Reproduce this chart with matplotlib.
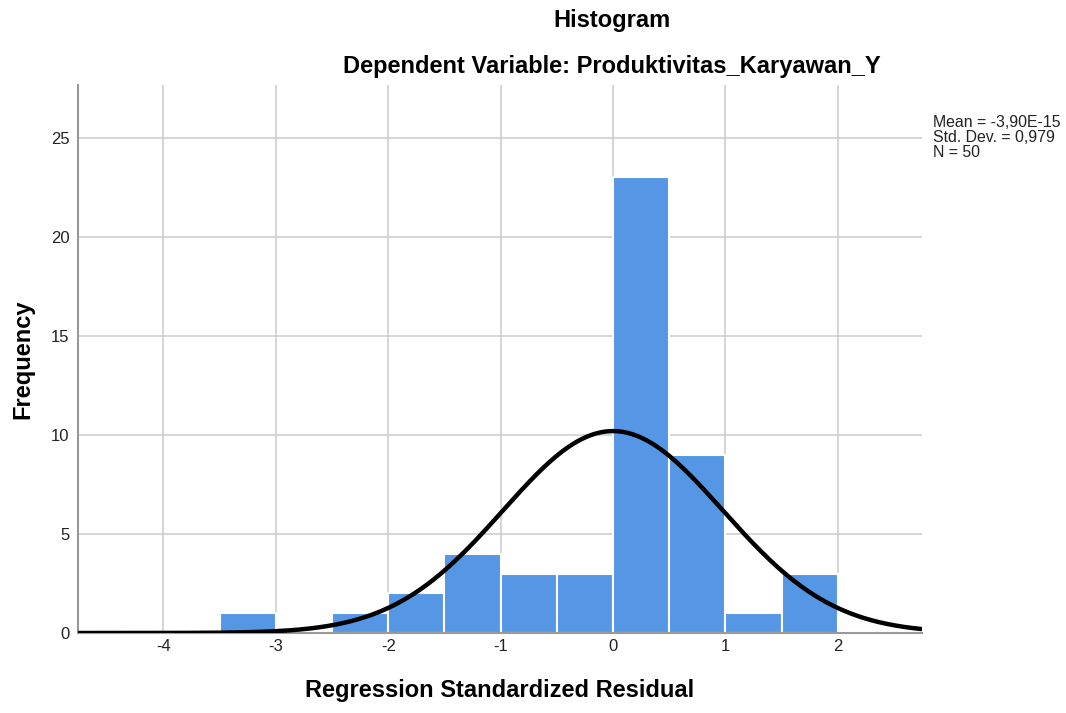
import numpy as np
import matplotlib.pyplot as plt

plt.rcParams['font.family'] = ['Liberation Sans', 'DejaVu Sans']
plt.rcParams['axes.unicode_minus'] = False

# histogram bins (standardized residual) and counts
bin_edges = [-3.5, -3.0, -2.5, -2.0, -1.5, -1.0, -0.5, 0.0, 0.5, 1.0, 1.5, 2.0]
counts = [1, 0, 1, 2, 4, 3, 3, 23, 9, 1, 3]
mean = -3.90e-15
std_dev = 0.979
n = 50
x_ticks = [-4, -3, -2, -1, 0, 1, 2]
y_ticks = [0, 5, 10, 15, 20, 25]

fig = plt.figure(figsize=(10.66, 7.13), dpi=100)
ax = fig.add_axes([0.0732, 0.1122, 0.7917, 0.7686])

lefts = np.array(bin_edges[:-1])
widths = np.diff(bin_edges)
ax.bar(lefts, counts, width=widths, align='edge', color='#5596e5',
       edgecolor='white', linewidth=1.5, zorder=2)

xlim = (-4.76, 2.75)
xs = np.linspace(xlim[0], xlim[1], 400)
bw = widths[0]
curve = n * bw * np.exp(-0.5 * ((xs - mean) / std_dev) ** 2) / (std_dev * np.sqrt(2 * np.pi))
ax.plot(xs, curve, color='black', linewidth=3.2, zorder=3, solid_capstyle='butt')

ax.set_xlim(*xlim)
ax.set_ylim(0, 27.65)
ax.set_xticks(x_ticks)
ax.set_yticks(y_ticks)
ax.tick_params(length=0, labelsize=12, colors='#222222')
ax.tick_params(axis='x', pad=4)
ax.tick_params(axis='y', pad=6)
ax.grid(True, color='#cccccc', linewidth=1.1, zorder=0)
ax.set_axisbelow(True)
for s in ['top', 'right']:
    ax.spines[s].set_visible(False)
ax.spines['left'].set_color('#999999')
ax.spines['left'].set_linewidth(1.5)
ax.spines['bottom'].set_color('#999999')
ax.spines['bottom'].set_linewidth(1.5)

ax.set_xlabel('Regression Standardized Residual', fontsize=17, fontweight='bold', labelpad=18)
ax.set_ylabel('Frequency', fontsize=17, fontweight='bold', labelpad=12)

fig.text(612 / 1066, 1 - 21 / 713, 'Histogram', ha='center', va='center',
         fontsize=17, fontweight='bold')
fig.text(612 / 1066, 1 - 67 / 713, 'Dependent Variable: Produktivitas_Karyawan_Y',
         ha='center', va='center', fontsize=17, fontweight='bold')

stats = 'Mean = -3,90E-15\nStd. Dev. = 0,979\nN = {}'.format(n)
fig.text(933 / 1066, 1 - 115 / 713, stats, ha='left', va='top', fontsize=11.4,
         linespacing=1.02, color='#222222')

fig.savefig('out.png', dpi=100)
